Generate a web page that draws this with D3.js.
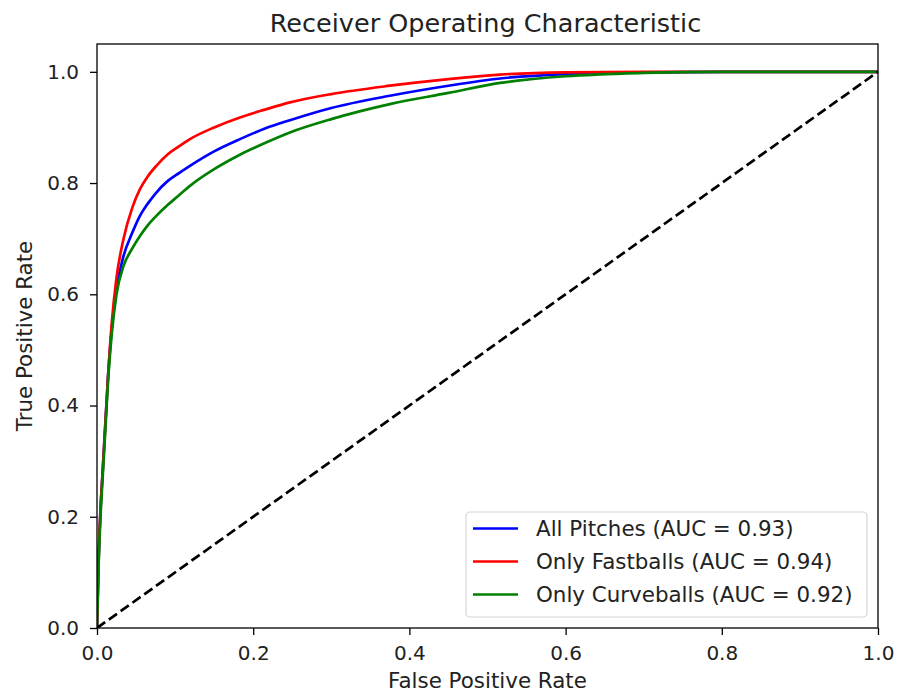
<!DOCTYPE html>
<html>
<head>
<meta charset="utf-8">
<script src="https://cdn.jsdelivr.net/npm/d3@7"></script>
<style>
  html, body { margin: 0; padding: 0; background: #fff; }
  svg { display: block; }
  text { font-family: "DejaVu Sans", sans-serif; fill: #222; }
</style>
</head>
<body>
<svg id="chart" width="897" height="693"></svg>
<script>
// ROC curve points [false positive rate, true positive rate]
const allPitches = [
  [0, 0], [0.002, 0.12], [0.008, 0.30], [0.014, 0.45], [0.019, 0.54], [0.025, 0.61],
  [0.034, 0.669], [0.045, 0.71], [0.055, 0.741], [0.065, 0.763], [0.076, 0.783],
  [0.09, 0.803], [0.105, 0.818], [0.119, 0.831], [0.15, 0.857], [0.183, 0.879],
  [0.215, 0.898], [0.247, 0.913], [0.3, 0.935], [0.375, 0.957], [0.45, 0.975],
  [0.516, 0.988], [0.6, 0.996], [0.7, 0.999], [0.8, 1.0], [1, 1]
];
const onlyFastballs = [
  [0, 0], [0.002, 0.12], [0.008, 0.30], [0.014, 0.45], [0.019, 0.55], [0.025, 0.63],
  [0.034, 0.70], [0.045, 0.755], [0.055, 0.789], [0.065, 0.812], [0.076, 0.831],
  [0.09, 0.851], [0.105, 0.866], [0.119, 0.879], [0.15, 0.900], [0.183, 0.918],
  [0.215, 0.932], [0.247, 0.945], [0.3, 0.960], [0.375, 0.975], [0.45, 0.987],
  [0.516, 0.995], [0.6, 0.999], [0.7, 1.0], [1, 1]
];
const onlyCurveballs = [
  [0, 0], [0.002, 0.11], [0.008, 0.29], [0.014, 0.44], [0.019, 0.53], [0.025, 0.60],
  [0.034, 0.651], [0.045, 0.682], [0.055, 0.705], [0.065, 0.724], [0.076, 0.741],
  [0.09, 0.760], [0.105, 0.778], [0.119, 0.795], [0.15, 0.825], [0.183, 0.851],
  [0.215, 0.872], [0.247, 0.891], [0.3, 0.915], [0.375, 0.942], [0.45, 0.962],
  [0.516, 0.980], [0.6, 0.992], [0.7, 0.998], [0.8, 1.0], [1, 1]
];
const chanceLine = [[0, 0], [1, 1]];

const seriesNames = ["All Pitches", "Only Fastballs", "Only Curveballs"];
const seriesAuc = [0.93, 0.94, 0.92];
const seriesColors = ["#0000ff", "#ff0000", "#008000"];
const xTicks = [0.0, 0.2, 0.4, 0.6, 0.8, 1.0];
const yTicks = [0.0, 0.2, 0.4, 0.6, 0.8, 1.0];

const series = [allPitches, onlyFastballs, onlyCurveballs];

const svg = d3.select("#chart");
const margin = { left: 97, right: 19, top: 44, bottom: 65 };
const W = 897, H = 693;
const plotW = W - margin.left - margin.right;
const plotH = H - margin.top - margin.bottom;

const x = d3.scaleLinear().domain([0, 1]).range([margin.left, margin.left + plotW]);
const y = d3.scaleLinear().domain([0, 1.05]).range([margin.top + plotH, margin.top]);

svg.append("defs").append("clipPath").attr("id", "plotClip")
  .append("rect")
  .attr("x", margin.left).attr("y", margin.top)
  .attr("width", plotW).attr("height", plotH);

const line = d3.line()
  .x(d => x(d[0]))
  .y(d => y(d[1]))
  .curve(d3.curveMonotoneX);

const plot = svg.append("g").attr("clip-path", "url(#plotClip)");

series.forEach((pts, i) => {
  plot.append("path")
    .datum(pts)
    .attr("d", line)
    .attr("fill", "none")
    .attr("stroke", seriesColors[i])
    .attr("stroke-width", 2.7)
    .attr("stroke-linejoin", "round")
    .attr("stroke-linecap", "round");
});

plot.append("path")
  .datum(chanceLine)
  .attr("d", d3.line().x(d => x(d[0])).y(d => y(d[1])))
  .attr("fill", "none")
  .attr("stroke", "#000")
  .attr("stroke-width", 2.7)
  .attr("stroke-dasharray", "10,4.5");

// Axes
const fmt = d3.format(".1f");
const xAxis = svg.append("g")
  .attr("transform", `translate(0,${margin.top + plotH})`)
  .call(d3.axisBottom(x).tickValues(xTicks).tickFormat(fmt).tickSize(7).tickPadding(11));
const yAxis = svg.append("g")
  .attr("transform", `translate(${margin.left},0)`)
  .call(d3.axisLeft(y).tickValues(yTicks).tickFormat(fmt).tickSize(7).tickPadding(11));

[xAxis, yAxis].forEach(a => {
  a.select(".domain").remove();
  a.selectAll(".tick line").attr("stroke", "#000").attr("stroke-width", 1.3);
  a.selectAll(".tick text")
    .style("font-family", '"DejaVu Sans", sans-serif')
    .style("font-size", "20px")
    .attr("fill", "#222");
});

// Frame
svg.append("rect")
  .attr("x", margin.left).attr("y", margin.top)
  .attr("width", plotW).attr("height", plotH)
  .attr("fill", "none").attr("stroke", "#000").attr("stroke-width", 1.3);

// Title and axis labels
svg.append("text")
  .attr("x", margin.left + plotW / 2 - 2).attr("y", 32)
  .attr("text-anchor", "middle")
  .style("font-size", "25.5px")
  .text("Receiver Operating Characteristic");

svg.append("text")
  .attr("x", margin.left + plotW / 2).attr("y", 688)
  .attr("text-anchor", "middle")
  .style("font-size", "21.4px")
  .text("False Positive Rate");

svg.append("text")
  .attr("transform", `translate(32,${margin.top + plotH / 2}) rotate(-90)`)
  .attr("text-anchor", "middle")
  .style("font-size", "21.4px")
  .text("True Positive Rate");

// Legend
const legend = svg.append("g");
legend.append("rect")
  .attr("x", 466).attr("y", 512)
  .attr("width", 401).attr("height", 105)
  .attr("rx", 4)
  .attr("fill", "#fff").attr("fill-opacity", 0.8)
  .attr("stroke", "#d5d5d5").attr("stroke-width", 1.2);

seriesNames.forEach((name, i) => {
  const cy = 528.5 + i * 33;
  legend.append("line")
    .attr("x1", 473).attr("x2", 518)
    .attr("y1", cy).attr("y2", cy)
    .attr("stroke", seriesColors[i]).attr("stroke-width", 2.7);
  legend.append("text")
    .attr("x", 536).attr("y", cy)
    .attr("dy", "0.35em")
    .style("font-size", "21.4px")
    .text(`${name} (AUC = ${seriesAuc[i].toFixed(2)})`);
});
</script>
</body>
</html>
